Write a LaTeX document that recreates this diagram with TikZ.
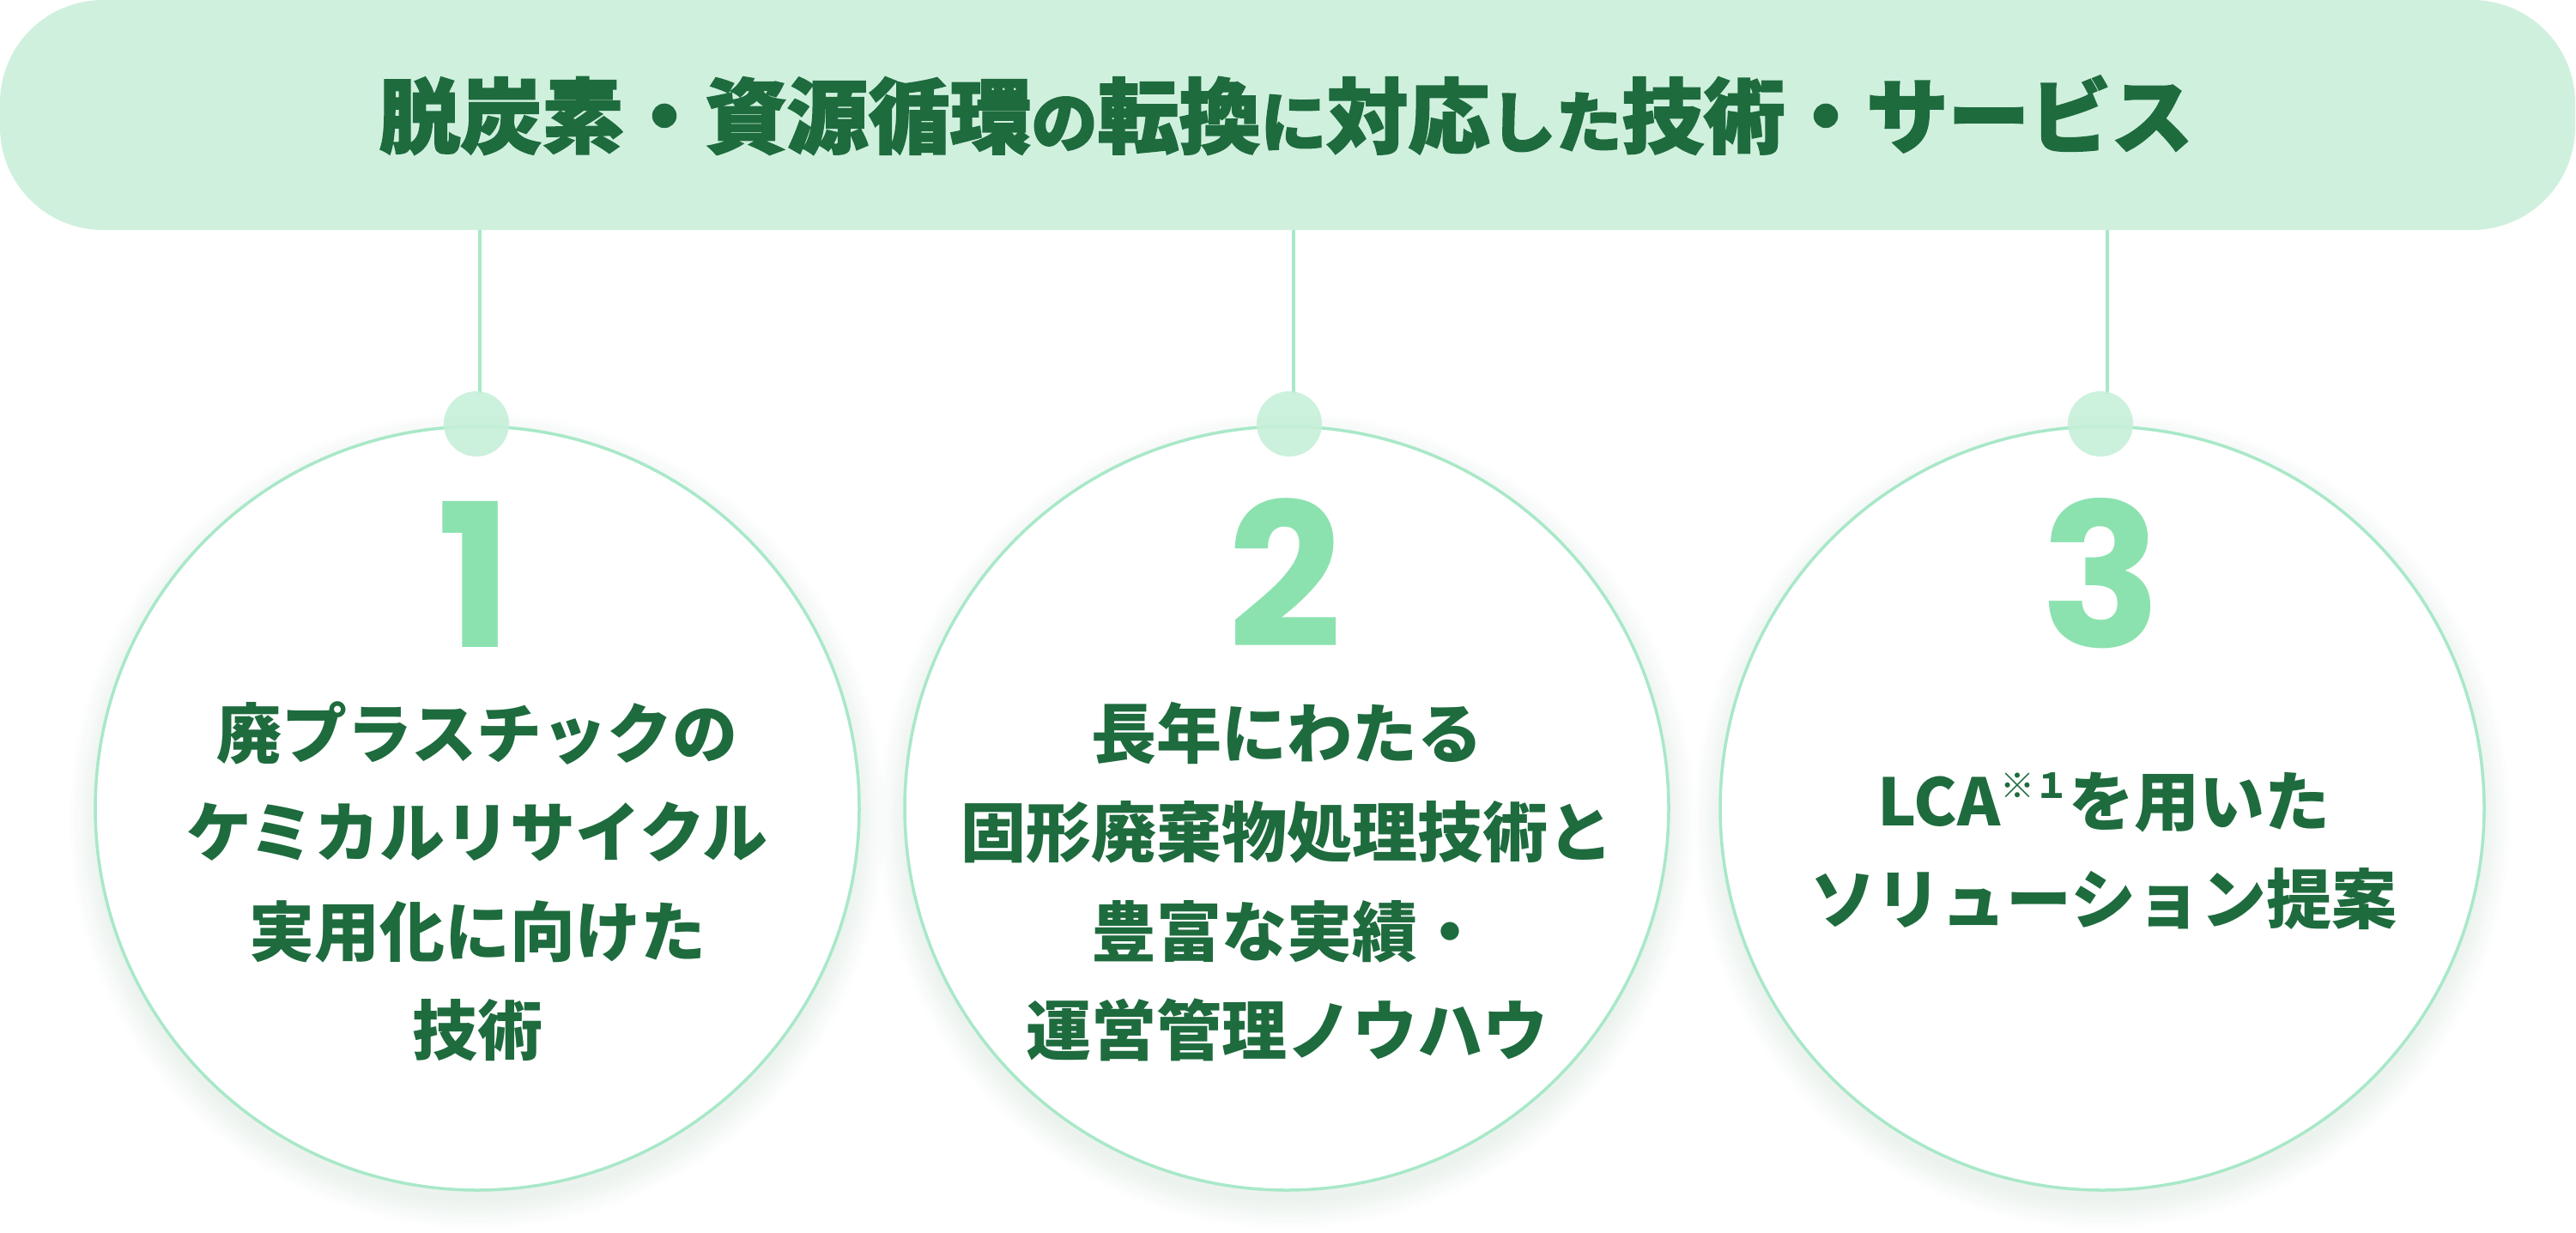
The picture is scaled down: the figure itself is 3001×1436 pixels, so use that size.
\documentclass[tikz,border=0pt]{standalone}
\usepackage{fontspec}
\newfontfamily\jp{Noto Sans CJK JP}
\newfontfamily\jptitle{Noto Sans CJK JP}[BoldFeatures={FakeBold=2}]
\newfontfamily\pop{Poppins}
\definecolor{bannerfill}{HTML}{D0F0DE}
\definecolor{darkgreen}{HTML}{1E6B3E}
\definecolor{numgreen}{HTML}{8BE2AF}
\definecolor{ringgreen}{HTML}{A8E8C8}
\definecolor{dotgreen}{HTML}{C6EFD8}
\definecolor{shadowgreen}{HTML}{4E8E66}
\newcommand\tsm[1]{{\fontsize{77}{77}\selectfont #1}}
\tikzset{
  bannerbox/.style={fill=bannerfill, draw=none, rounded corners=120pt, minimum width=3000pt, minimum height=268pt, inner sep=0pt},
  titletext/.style={anchor=base, text=darkgreen, inner sep=0pt, font=\jptitle\bfseries\fontsize{95}{95}\selectfont},
  bigring/.style={circle, fill=white, draw=ringgreen, line width=3.5pt, minimum size=890pt, inner sep=0pt},
  dotnode/.style={circle, fill=dotgreen, fill opacity=0.9, draw=none, minimum size=76pt, inner sep=0pt},
  stalk/.style={draw=ringgreen, line width=3.3pt},
  numtext/.style={anchor=base, text=numgreen, inner sep=0pt, font=\pop\bfseries\fontsize{233}{233}\selectfont},
  bodytext/.style={anchor=base, text=darkgreen, inner sep=0pt, font=\jp\bfseries\fontsize{76}{76}\selectfont},
}
\begin{document}
\begin{tikzpicture}[x=1pt,y=-1pt]
\useasboundingbox (0,0) rectangle (3001,1436);
% banner
\node[bannerbox] (banner) at (1500,134) {};
\node[titletext] (title) at (1498,171) {脱炭素・資源循環\tsm{の}転換\tsm{に}対応\tsm{した}技術・サービス};
% stalk anchors
\coordinate (s1) at (559,268);
\coordinate (s2) at (1507,268);
\coordinate (s3) at (2455,268);
\coordinate (e1) at (559,459);
\coordinate (e2) at (1507,459);
\coordinate (e3) at (2455,459);
\draw[stalk] (s1) -- (e1);
\draw[stalk] (s2) -- (e2);
\draw[stalk] (s3) -- (e3);
% shadows
\foreach \cx in {556,1499,2449}{
  \foreach \i in {0,...,13}{
    \fill[shadowgreen, opacity=0.009] (\cx,956) circle[radius={444pt+2.5pt*\i}];
  }
}
% big circles
\node[bigring] (c1) at (556,942) {};
\node[bigring] (c2) at (1499,942) {};
\node[bigring] (c3) at (2449,942) {};
% dots
\node[dotnode] (d1) at (555,494) {};
\node[dotnode] (d2) at (1502,494) {};
\node[dotnode] (d3) at (2447,494) {};
% numbers
\node[numtext] (n1) at (553,754) {1};
\node[numtext] (n2) at (1497,754) {2};
\node[numtext] (n3) at (2448,754) {3};
% circle 1 text
\node[bodytext] (a1) at (556,883) {廃プラスチックの};
\node[bodytext] (a2) at (556,998.5) {ケミカルリサイクル};
\node[bodytext] (a3) at (556,1114) {実用化に向けた};
\node[bodytext] (a4) at (556,1229.5) {技術};
% circle 2 text
\node[bodytext] (b1) at (1499,883) {長年にわたる};
\node[bodytext] (b2) at (1499,998.5) {固形廃棄物処理技術と};
\node[bodytext] (b3) at (1499,1114) {豊富な実績・};
\node[bodytext] (b4) at (1499,1229.5) {運営管理ノウハウ};
% circle 3 text
\node[bodytext] (g1) at (2451,962.5) {LCA\raisebox{0.42em}{\fontsize{40}{40}\selectfont ※１}を用いた};
\node[bodytext] (g2) at (2451,1076.5) {ソリューション提案};
\end{tikzpicture}
\end{document}
